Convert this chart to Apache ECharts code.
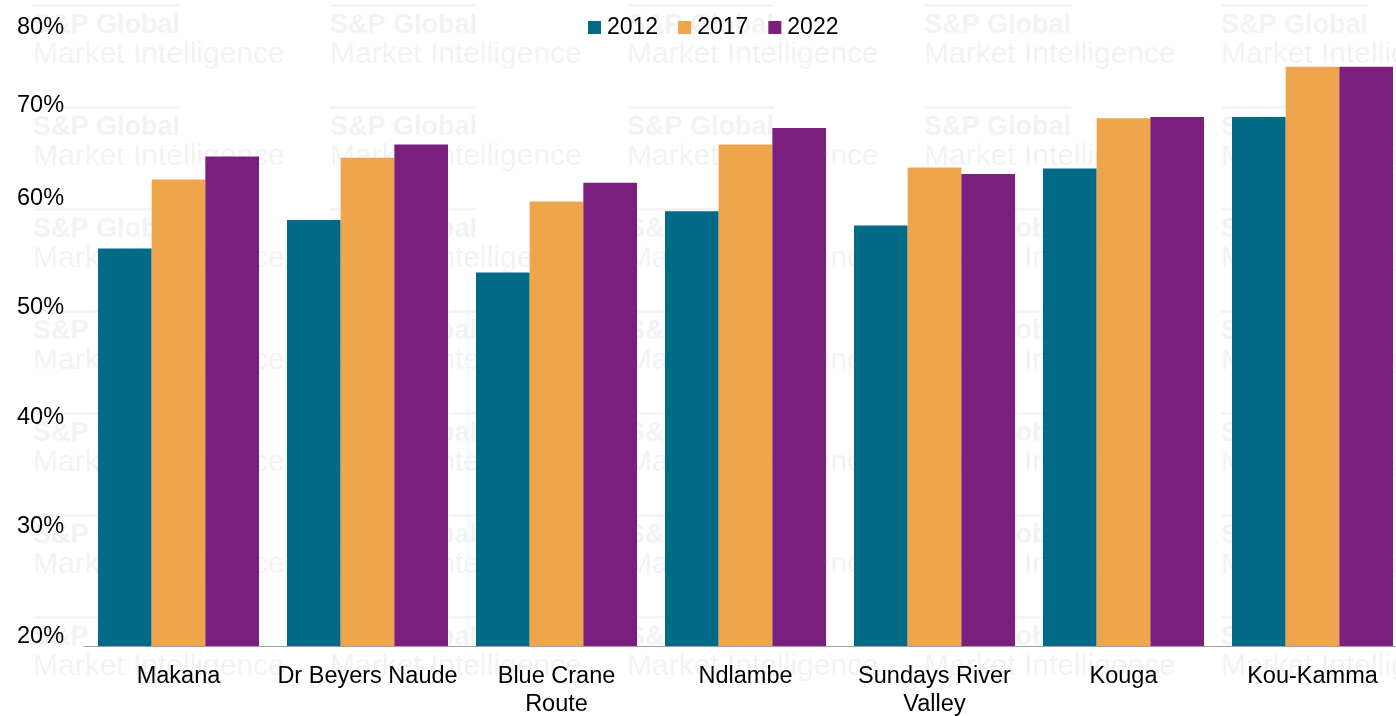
<!DOCTYPE html>
<html>
<head>
<meta charset="utf-8">
<style>
  html, body { margin: 0; padding: 0; background: #ffffff; }
  #chart { width: 1396px; height: 716px; }
</style>
<script src="https://cdn.jsdelivr.net/npm/echarts@6/dist/echarts.min.js"></script>
</head>
<body>
<div id="chart"></div>
<script>
// Municipalities (x-axis categories)
const categories = [
  'Makana',
  'Dr Beyers Naude',
  'Blue Crane\nRoute',
  'Ndlambe',
  'Sundays River\nValley',
  'Kouga',
  'Kou-Kamma'
];

// Series names
const seriesNames = ['2012', '2017', '2022'];

// Share (%) per municipality for each year
const values2012 = [56.3, 58.9, 54.1, 59.7, 58.4, 63.6, 68.3];
const values2017 = [62.6, 64.6, 60.6, 65.8, 63.7, 68.2, 72.9];
const values2022 = [64.7, 65.8, 62.3, 67.3, 63.1, 68.3, 72.9];

// Value axis range
const yMin = 20;
const yMax = 80;
const yStep = 10;

const colors = ['#006A87', '#EFA54B', '#7A1F7D'];
const FONT = "'Liberation Sans', Arial, sans-serif";
const AXIS_FONT_SIZE = 23.5;

// Faint brand watermark tiled behind the plot
const watermark = [];
for (let r = 0; r < 7; r++) {
  for (let c = 0; c < 5; c++) {
    const x = 33 + 297 * c;
    const y = 102 * r;
    watermark.push({
      type: 'rect', z: -10, silent: true,
      shape: { x: x, y: y + 4, width: 147, height: 3 },
      style: { fill: '#f5f5f5' }
    });
    watermark.push({
      type: 'text', z: -10, silent: true, x: x, y: y + 26,
      style: { text: 'S&P Global', fill: '#f3f3f3', font: 'bold 27px ' + FONT, verticalAlign: 'middle' }
    });
    watermark.push({
      type: 'text', z: -10, silent: true, x: x, y: y + 55,
      style: { text: 'Market Intelligence', fill: '#f3f3f3', font: '30px ' + FONT, verticalAlign: 'middle' }
    });
  }
}

// y labels sit just above their tick; the top two are nudged down to stay in view
const labelRich = {
  n:   { fontSize: AXIS_FONT_SIZE, fontFamily: FONT, color: '#000', padding: [0, 0, 19, 0] },
  t70: { fontSize: AXIS_FONT_SIZE, fontFamily: FONT, color: '#000', padding: [15, 0, 0, 0] },
  t80: { fontSize: AXIS_FONT_SIZE, fontFamily: FONT, color: '#000', padding: [78, 0, 0, 0] }
};

const chart = echarts.init(document.getElementById('chart'), null, { renderer: 'canvas' });
chart.setOption({
  backgroundColor: '#ffffff',
  animation: false,
  color: colors,
  graphic: watermark,
  legend: {
    data: seriesNames,
    left: 588,
    top: 16,
    padding: 0,
    icon: 'rect',
    itemWidth: 13,
    itemHeight: 13,
    itemGap: 20,
    textStyle: { fontSize: 23, fontFamily: FONT, color: '#000', padding: [0, 0, 0, 1] }
  },
  grid: { left: 84, right: -11, top: -11, bottom: 70, containLabel: false, outerBoundsMode: 'none' },
  xAxis: {
    type: 'category',
    data: categories,
    axisLine: { show: true, lineStyle: { color: '#a0a0a0', width: 1 } },
    axisTick: { show: false },
    axisLabel: {
      interval: 0,
      margin: 17,
      fontSize: AXIS_FONT_SIZE,
      lineHeight: 28,
      fontFamily: FONT,
      color: '#000'
    }
  },
  yAxis: {
    type: 'value',
    min: yMin,
    max: yMax,
    interval: yStep,
    axisLine: { show: false },
    axisTick: { show: false },
    splitLine: { show: false },
    axisLabel: {
      align: 'left',
      margin: 67,
      formatter: function (v) {
        const key = v === 80 ? 't80' : (v === 70 ? 't70' : 'n');
        return '{' + key + '|' + v + '%}';
      },
      rich: labelRich
    }
  },
  series: [
    { name: seriesNames[0], type: 'bar', data: values2012, barGap: '0%', barCategoryGap: '14.8%' },
    { name: seriesNames[1], type: 'bar', data: values2017, barGap: '0%', barCategoryGap: '14.8%' },
    { name: seriesNames[2], type: 'bar', data: values2022, barGap: '0%', barCategoryGap: '14.8%' }
  ]
});
</script>
</body>
</html>
